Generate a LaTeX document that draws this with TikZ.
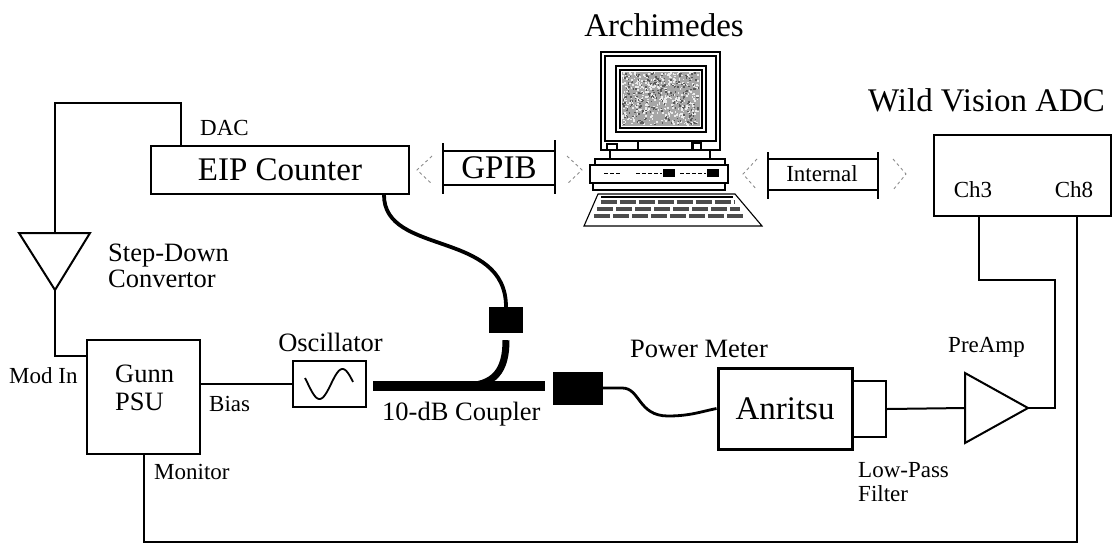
\documentclass[tikz,border=0pt]{standalone}
\usepackage{fontspec}
\setmainfont{Liberation Serif}
\usetikzlibrary{calc}
\begin{document}
\begin{tikzpicture}[x=1pt,y=-1pt,
  wire/.style={line width=2pt},
  box/.style={draw,line width=2pt,inner sep=0pt},
  big/.style={font=\fontsize{33}{36}\selectfont},
  mid/.style={font=\fontsize{26.5}{28}\selectfont},
  small/.style={font=\fontsize{23}{25}\selectfont},
  lbl/.style={inner sep=0pt,anchor=base west},
  plug/.style={fill=black,inner sep=0pt},
  coupler/.style={line width=10pt},
  branch/.style={line width=7pt},
  cable/.style={line width=3.8pt},
  thincable/.style={line width=2.8pt},
  busline/.style={line width=1.4pt},
  chevron/.style={line width=0.9pt,black!45,dash pattern=on 3pt off 3pt},
  pc/.style={line width=1.1pt}]
\useasboundingbox (0,0) rectangle (1118,544);

% ---------------- instruments ----------------
\node[box,big,minimum width=258pt,minimum height=48pt] (eip) at (280,170) {EIP Counter};
\node[box,minimum width=113pt,minimum height=114pt] (gunn) at (143.5,397) {};
\node[mid,lbl] (gunnA) at (115,382) {Gunn};
\node[mid,lbl] (gunnB) at (115,410) {PSU};
\node[box,minimum width=73pt,minimum height=46pt] (osc) at (329.5,384) {};
\node[box,big,line width=3pt,minimum width=134pt,minimum height=81pt] (anr) at (785,408.5) {Anritsu};
\node[box,minimum width=34pt,minimum height=56pt] (lpf) at (869,409) {};
\node[box,minimum width=177pt,minimum height=81pt] (adc) at (1022.5,175.5) {};
\node[plug,minimum width=34pt,minimum height=26pt] (eipc) at (506,320) {};
\node[plug,minimum width=50pt,minimum height=33pt] (pmc) at (578,388) {};

% step-down convertor and preamp triangles
\draw[wire] (19,233) -- (90,233) -- (55,290) -- cycle;
\coordinate (sdTop) at (55,233);
\coordinate (sdTip) at (55,290);
\draw[wire] (965,373) -- (965,443) -- (1028,408) -- cycle;
\coordinate (paIn) at (965,408);
\coordinate (paOut) at (1028,408);

% oscillator symbol
\draw[line width=1.8pt,domain=305:353,samples=60,smooth]
  plot (\x,{384-15*sin(deg(2*pi*(\x-331)/46))});

% ---------------- labels ----------------
\node[big,inner sep=0pt,anchor=base] (arch) at (664,36) {Archimedes};
\node[big,inner sep=0pt,anchor=base] (adcT) at (986.5,111) {Wild Vision ADC};
\node[small,inner sep=0pt] (ch3) at (973,190) {Ch3};
\node[small,inner sep=0pt] (ch8) at (1074,190) {Ch8};
\node[small,lbl] (dac) at (200,135) {DAC};
\node[mid,lbl] (sdA) at (108,261) {Step-Down};
\node[mid,lbl] (sdB) at (108,287) {Convertor};
\node[small,lbl] (modin) at (9,383) {Mod In};
\node[small,lbl] (bias) at (209,411) {Bias};
\node[small,lbl] (mon) at (154,479) {Monitor};
\node[mid,inner sep=0pt,anchor=base] (oscT) at (330.5,351) {Oscillator};
\node[mid,lbl] (cplT) at (382,420) {10-dB Coupler};
\node[mid,lbl] (pmT) at (630,357) {Power Meter};
\node[small,lbl] (paT) at (948,352) {PreAmp};
\node[small,lbl] (lpA) at (858,477) {Low-Pass};
\node[small,lbl] (lpB) at (858,501) {Filter};

% ---------------- wiring ----------------
\coordinate (dacBend) at (55,103);
\draw[wire] ([xshift=31pt]eip.north west) |- (dacBend) -- (sdTop);
\draw[wire] (sdTip) |- ([yshift=-17pt]gunn.north west);
\draw[wire] (gunn.east |- osc.west) -- (osc.west);

\coordinate (cplL) at (373,386);
\coordinate (cplJ) at (463,386);
\coordinate (cplR) at (545,386);
\draw[coupler] (cplL) -- (cplR);
\draw[branch] (cplJ) .. controls +(32,0) and +(0,30) .. ([yshift=-7pt]eipc.south);
\draw[cable] ([xshift=-26pt]eip.south east) .. controls +(0,61) and +(0,-77) .. (eipc.north);
\draw[thincable] (pmc.east) -- ++(19,0) .. controls +(18,0) and +(-30,0) .. (668,416)
  .. controls +(22,0) and +(-15,3) .. (anr.west);

\draw[wire] (lpf.east) -- (paIn);
\coordinate (paBend) at (1055,408);
\coordinate (ch3Bend) at (979,280);
\draw[wire] (paOut) -- (paBend) |- (ch3Bend) -- (ch3Bend |- adc.south);
\coordinate (rtCorner) at (1077,542);
\draw[wire] (gunn.south) |- (rtCorner) -- (rtCorner |- adc.south);

% ---------------- bus links ----------------
\node[big,inner sep=0pt] (gpib) at (499,168) {GPIB};
\draw[busline] (443,143) -- (443,194) (555,140) -- (555,194);
\draw[busline] (443,151) -- (555,151) (443,185) -- (555,185);
\draw[chevron] (432,156) -- (417,170) -- (432,184);
\draw[chevron] (567,156) -- (582,170) -- (567,184);

\node[small,inner sep=0pt] (intl) at (822,174) {Internal};
\draw[busline] (768,152) -- (768,199) (878,152) -- (878,199);
\draw[busline] (768,159) -- (878,159) (768,190) -- (878,190);
\draw[chevron] (757,159) -- (743,174) -- (757,190);
\draw[chevron] (893,159) -- (906,174) -- (893,190);

% ---------------- computer ----------------
\draw[pc,line width=1.4pt] (601,52) rectangle (720,150);
\draw[pc] (605,56) rectangle (716,141);
\draw[pc] (616,66) rectangle (706,132);
\draw[pc] (620,70) rectangle (702,128);
\fill[black!35] (622,72) rectangle (700,126);
\pgfmathsetseed{11}
\foreach \i in {1,...,420}{
  \pgfmathsetmacro\rx{622+76*rnd}
  \pgfmathsetmacro\ry{72+52*rnd}
  \fill[black!8] (\rx,\ry) rectangle ++(1.6,1.6);
}
\foreach \i in {1,...,260}{
  \pgfmathsetmacro\rx{622+76*rnd}
  \pgfmathsetmacro\ry{72+52*rnd}
  \fill[black!65] (\rx,\ry) rectangle ++(1.5,1.5);
}
\draw[pc] (638,141) rectangle (692,150);
\draw[pc] (607,144) rectangle (617,150);
\draw[pc] (693,143) rectangle (701,150);
\draw[pc] (610,150) -- (610,159) (710,150) -- (710,159);
\draw[pc] (595,159) rectangle (725,165);
\draw[pc,line width=1.4pt] (590,165) rectangle (728,183);
\draw[line width=1pt,dash pattern=on 4pt off 2pt] (604,173) -- (620,173) (636,173) -- (662,173)
  (680,173) -- (706,173);
\fill (663,169) rectangle (675,177);
\fill (707,169) rectangle (719,177);
\draw[pc] (593,183) rectangle (725,190);
\draw[pc,fill=white] (598,194) -- (735,194) -- (762,226) -- (584,226) -- cycle;
\draw[pc] (601,197) -- (733,197);
\foreach \r in {0,1,2}{
  \pgfmathsetmacro\yc{202+7*\r}
  \pgfmathsetmacro\xl{598-14*(\yc-194)/32+6}
  \pgfmathsetmacro\xr{735+27*(\yc-194)/32-8}
  \draw[line width=4.5pt,black!70,dash pattern=on 16pt off 3pt] (\xl,\yc) -- (\xr,\yc);
}
\end{tikzpicture}
\end{document}
